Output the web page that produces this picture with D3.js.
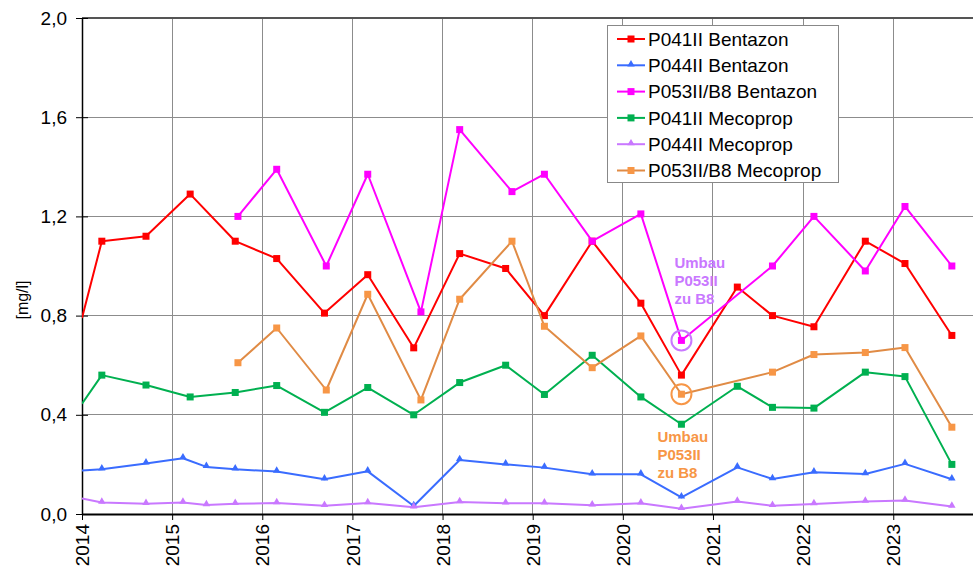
<!DOCTYPE html>
<html>
<head>
<meta charset="utf-8">
<script src="https://cdn.jsdelivr.net/npm/d3@7"></script>
<style>
  body { margin: 0; background: #fff; }
  svg { display: block; font-family: "Liberation Sans", Arial, sans-serif; }
</style>
</head>
<body>
<svg id="chart" width="973" height="572"></svg>
<script>
// ---------- data ----------
const yearTicks = [2014, 2015, 2016, 2017, 2018, 2019, 2020, 2021, 2022, 2023];
const yTicks = [0, 0.4, 0.8, 1.2, 1.6, 2.0];
const yLabel = "[mg/l]";

// sampling dates (decimal years)
const datesA = [2014.0, 2014.22, 2014.71, 2015.20, 2015.70, 2016.16, 2016.69, 2017.17, 2017.68, 2018.19, 2018.70, 2019.13, 2019.66, 2020.20, 2020.65, 2021.27, 2021.66, 2022.12, 2022.69, 2023.13, 2023.65];
const datesB = [2014.0, 2014.22, 2014.71, 2015.12, 2015.38, 2015.70, 2016.16, 2016.69, 2017.17, 2017.68, 2018.19, 2018.70, 2019.13, 2019.66, 2020.20, 2020.65, 2021.27, 2021.66, 2022.12, 2022.69, 2023.13, 2023.65];
const datesC = [2015.73, 2016.16, 2016.71, 2017.17, 2017.76, 2018.19, 2018.77, 2019.13, 2019.66, 2020.20, 2020.65, 2021.66, 2022.12, 2022.69, 2023.13, 2023.65];

const p041Bentazon = [0.79, 1.10, 1.12, 1.29, 1.10, 1.03, 0.81, 0.965, 0.67, 1.05, 0.99, 0.80, 1.10, 0.85, 0.56, 0.915, 0.80, 0.755, 1.10, 1.01, 0.72];
const p044Bentazon = [0.175, 0.18, 0.204, 0.225, 0.19, 0.18, 0.171, 0.14, 0.172, 0.032, 0.218, 0.20, 0.187, 0.16, 0.16, 0.067, 0.188, 0.141, 0.168, 0.161, 0.202, 0.14];
const p053Bentazon = [1.20, 1.39, 1.00, 1.37, 0.815, 1.55, 1.30, 1.37, 1.10, 1.21, 0.70, 1.00, 1.20, 0.98, 1.24, 1.00];
const p041Mecoprop = [0.445, 0.56, 0.52, 0.472, 0.49, 0.518, 0.41, 0.51, 0.40, 0.53, 0.60, 0.482, 0.64, 0.472, 0.362, 0.515, 0.43, 0.427, 0.572, 0.554, 0.20];
const p044Mecoprop = [0.063, 0.046, 0.041, 0.046, 0.036, 0.041, 0.044, 0.033, 0.044, 0.027, 0.048, 0.043, 0.043, 0.035, 0.043, 0.021, 0.05, 0.033, 0.04, 0.05, 0.054, 0.03];
const p053Mecoprop = [0.61, 0.75, 0.50, 0.886, 0.46, 0.866, 1.10, 0.757, 0.59, 0.718, 0.483, 0.572, 0.643, 0.651, 0.671, 0.35];

const seriesNames = ["P041II Bentazon", "P044II Bentazon", "P053II/B8 Bentazon", "P041II Mecoprop", "P044II Mecoprop", "P053II/B8 Mecoprop"];
const seriesColors = ["#ff0000", "#3a6cff", "#ff00ff", "#00b050", "#c978ff", "#e08b45"];
const markerColors = ["#ff0000", "#3a6cff", "#ff00ff", "#00b050", "#c978ff", "#f79646"];
const seriesShapes = ["square", "triangle", "square", "square", "triangle", "square"];
const seriesDates = [datesA, datesB, datesC, datesA, datesB, datesC];
const seriesValues = [p041Bentazon, p044Bentazon, p053Bentazon, p041Mecoprop, p044Mecoprop, p053Mecoprop];

const annotationText = ["Umbau", "P053II", "zu B8"];
const annotationDate = 2020.65;

// ---------- layout ----------
const svg = d3.select("#chart");
const mLeft = 82, mTop = 18, mBottom = 514;
const x = d3.scaleLinear().domain([2014, 2024]).range([mLeft, mLeft + 901.4]);
const y = d3.scaleLinear().domain([0, 2]).range([mBottom, mTop]);
const W = 973;
const FONT = 19;

const defs = svg.append("defs");
defs.append("clipPath").attr("id", "clip")
  .append("rect").attr("x", mLeft).attr("y", mTop - 5).attr("width", W - mLeft).attr("height", mBottom - mTop + 10);

// gridlines
const grid = svg.append("g");
grid.selectAll(".hg").data(yTicks.filter(d => d > 0 && d < 2)).join("line")
  .attr("x1", mLeft).attr("x2", W).attr("y1", d => y(d)).attr("y2", d => y(d))
  .attr("stroke", "#8c8c8c").attr("stroke-width", 1).attr("shape-rendering", "crispEdges");
grid.selectAll(".vg").data(yearTicks.filter(d => d > 2014)).join("line")
  .attr("x1", d => x(d)).attr("x2", d => x(d)).attr("y1", mTop).attr("y2", mBottom)
  .attr("stroke", "#8c8c8c").attr("stroke-width", 1).attr("shape-rendering", "crispEdges");
// top border
svg.append("line").attr("x1", mLeft).attr("x2", W).attr("y1", y(2)).attr("y2", y(2))
  .attr("stroke", "#555").attr("stroke-width", 2);

// axes
const yAxis = d3.axisLeft(y).tickValues(yTicks).tickSizeInner(6).tickSizeOuter(0).tickPadding(9)
  .tickFormat(d => d3.format(".1f")(d).replace(".", ","));
const gy = svg.append("g").attr("transform", `translate(${mLeft},0)`).call(yAxis);
gy.select(".domain").attr("stroke", "#000").attr("stroke-width", 1.5);
gy.selectAll(".tick line").attr("x1", 6).attr("x2", -6).attr("stroke", "#000");
gy.selectAll("text").attr("font-size", FONT).attr("fill", "#000").attr("font-family", "Liberation Sans, Arial, sans-serif");

const xAxis = d3.axisBottom(x).tickValues(yearTicks).tickSizeInner(6).tickSizeOuter(0).tickFormat(d3.format("d"));
const gx = svg.append("g").attr("transform", `translate(0,${mBottom})`).call(xAxis);
gx.select(".domain").attr("d", `M${mLeft},0.5H${W}`).attr("stroke", "#000").attr("stroke-width", 2);
gx.selectAll(".tick line").attr("stroke", "#000");
gx.selectAll("text")
  .attr("font-size", FONT).attr("fill", "#000").attr("font-family", "Liberation Sans, Arial, sans-serif")
  .attr("transform", "rotate(-90)")
  .attr("text-anchor", "end").attr("x", -10).attr("y", 0).attr("dy", "0.35em");

// y label
svg.append("text").attr("transform", `translate(28,300) rotate(-90)`)
  .attr("text-anchor", "middle").attr("font-size", 16).attr("fill", "#000")
  .text(yLabel);

// ---------- series ----------
const plot = svg.append("g").attr("clip-path", "url(#clip)");
const line = d3.line().x(d => x(d[0])).y(d => y(d[1]));
const tri = d3.symbol().type(d3.symbolTriangle).size(24);

function drawMarker(g, shape, color, cx, cy) {
  if (shape === "square") {
    g.append("rect").attr("x", cx - 3.5).attr("y", cy - 3.5).attr("width", 7).attr("height", 7).attr("fill", color);
  } else {
    g.append("path").attr("d", tri()).attr("transform", `translate(${cx},${cy - 1})`).attr("fill", color);
  }
}

seriesNames.forEach((name, i) => {
  const pts = seriesDates[i].map((d, j) => [d, seriesValues[i][j]]);
  plot.append("path").datum(pts).attr("d", line)
    .attr("fill", "none").attr("stroke", seriesColors[i]).attr("stroke-width", 2)
    .attr("stroke-linejoin", "round");
  const mg = plot.append("g");
  pts.filter(p => p[0] > 2014).forEach(p => drawMarker(mg, seriesShapes[i], markerColors[i], x(p[0]), y(p[1])));
});

// ---------- annotations ----------
const ix053B = datesC.indexOf(annotationDate);
svg.append("circle").attr("cx", x(annotationDate)).attr("cy", y(p053Bentazon[ix053B]))
  .attr("r", 10).attr("fill", "none").attr("stroke", "#c978ff").attr("stroke-width", 2);
svg.append("circle").attr("cx", x(annotationDate)).attr("cy", y(p053Mecoprop[ix053B]))
  .attr("r", 10).attr("fill", "none").attr("stroke", "#f79646").attr("stroke-width", 2);

const ann1 = svg.append("text").attr("font-size", 15).attr("font-weight", "bold").attr("fill", "#c978ff");
annotationText.forEach((t, k) => ann1.append("tspan").attr("x", x(annotationDate) - 7).attr("y", 268 + k * 18).text(t));
const ann2 = svg.append("text").attr("font-size", 15).attr("font-weight", "bold").attr("fill", "#f79646");
annotationText.forEach((t, k) => ann2.append("tspan").attr("x", x(annotationDate) - 24).attr("y", 442 + k * 17.8).text(t));

// ---------- legend ----------
const lg = svg.append("g");
lg.append("rect").attr("x", 607.5).attr("y", 25.5).attr("width", 231).attr("height", 157)
  .attr("fill", "#fff").attr("stroke", "#888").attr("stroke-width", 1);
seriesNames.forEach((name, i) => {
  const cy = 39 + i * 26.3;
  lg.append("line").attr("x1", 617).attr("x2", 645).attr("y1", cy).attr("y2", cy)
    .attr("stroke", seriesColors[i]).attr("stroke-width", 2);
  drawMarker(lg, seriesShapes[i], markerColors[i], 631, cy);
  lg.append("text").attr("x", 648).attr("y", cy).attr("dy", "0.35em")
    .attr("font-size", FONT).attr("fill", "#000").text(name);
});
</script>
</body>
</html>
